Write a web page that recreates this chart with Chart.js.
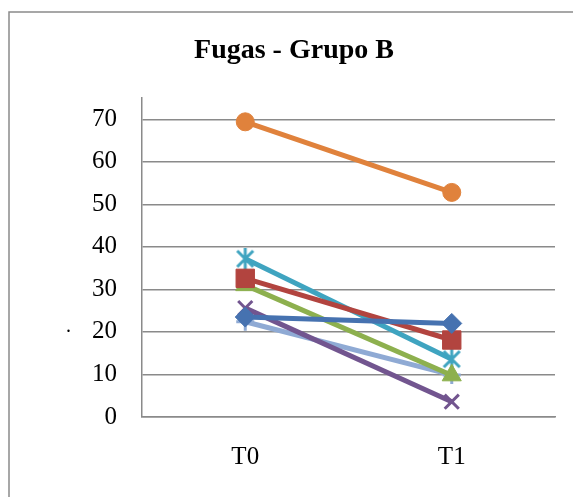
<!DOCTYPE html>
<html>
<head>
<meta charset="utf-8">
<script src="https://cdn.jsdelivr.net/npm/chart.js@4"></script>
<style>
  html, body { margin: 0; padding: 0; background: #fff; }
  #wrap { width: 573px; height: 497px; position: relative; }
</style>
</head>
<body>
<div id="wrap"><canvas id="c" width="573" height="497"></canvas></div>
<script>
// Time points and measured values per subject
const categories = ['T0', 'T1'];
const serie1 = [23.5, 22];
const serie2 = [32.6, 18.1];
const serie3 = [31, 9.8];
const serie4 = [25.6, 3.6];
const serie5 = [37.2, 13.6];
const serie6 = [69.4, 52.8];
const serie7 = [22.4, 9.9];
const yTicks = [0, 10, 20, 30, 40, 50, 60, 70];
const chartTitle = 'Fugas - Grupo B';

const serif = "'Liberation Serif', 'Times New Roman', serif";

// Asterisk marker: an X crossed by a vertical bar
function asterisk(color) {
  const s = 22, c = document.createElement('canvas');
  c.width = s; c.height = s;
  const g = c.getContext('2d');
  g.strokeStyle = color;
  g.lineWidth = 3;
  g.lineCap = 'butt';
  g.beginPath();
  g.moveTo(3, 3); g.lineTo(s - 3, s - 3);
  g.moveTo(s - 3, 3); g.lineTo(3, s - 3);
  g.moveTo(s / 2, 0); g.lineTo(s / 2, s);
  g.stroke();
  return c;
}

function ds(data, color, style, radius, bw) {
  return {
    data: data,
    borderColor: color,
    backgroundColor: color,
    borderWidth: 5,
    pointStyle: style,
    pointRadius: radius,
    pointHoverRadius: radius,
    pointBorderWidth: bw,
    pointBorderColor: color,
    pointBackgroundColor: color,
    tension: 0,
    fill: false
  };
}

// Frame, title and the small mark left of the axis
const decor = {
  id: 'decor',
  beforeDraw(chart) {
    const ctx = chart.ctx;
    ctx.save();
    ctx.fillStyle = '#fff';
    ctx.fillRect(0, 0, chart.width, chart.height);
    ctx.strokeStyle = '#8a8a8a';
    ctx.lineWidth = 1.5;
    ctx.strokeRect(9, 12, 700, 700);
    ctx.restore();
  },
  afterDraw(chart) {
    const ctx = chart.ctx;
    ctx.save();
    ctx.fillStyle = '#000';
    ctx.font = 'bold 28px ' + serif;
    ctx.textAlign = 'center';
    ctx.textBaseline = 'alphabetic';
    ctx.fillText(chartTitle, 294, 58);
    ctx.font = '20px ' + serif;
    ctx.textAlign = 'left';
    ctx.fillText('.', 66, 332);
    ctx.restore();
  }
};

const teal = '#3FA4C0';

new Chart(document.getElementById('c'), {
  type: 'line',
  data: {
    labels: categories,
    datasets: [
      ds(serie1, '#4672B0', 'rectRot', 10, 1),
      ds(serie2, '#B2443F', 'rect', 13, 1),
      ds(serie3, '#8DB04E', 'triangle', 11, 1),
      ds(serie4, '#72558F', 'crossRot', 10, 3),
      ds(serie5, teal, asterisk(teal), 10, 3),
      ds(serie6, '#E0823C', 'circle', 9, 1),
      ds(serie7, '#8FAAD4', 'cross', 9, 3)
    ]
  },
  options: {
    responsive: false,
    animation: false,
    events: [],
    layout: { padding: { top: 98, right: 18, left: 0, bottom: 0 } },
    plugins: {
      legend: { display: false },
      title: { display: false },
      tooltip: { enabled: false }
    },
    scales: {
      x: {
        offset: true,
        grid: { display: false, drawTicks: false },
        border: { display: true, color: '#8a8a8a', width: 1.5 },
        ticks: { color: '#000', font: { family: serif, size: 25 }, padding: 25 },
        afterFit(scale) { scale.height = 80; }
      },
      y: {
        min: 0,
        max: 75,
        grid: { color: '#8a8a8a', lineWidth: 1.5, drawTicks: false },
        border: { display: true, color: '#8a8a8a', width: 1.5 },
        ticks: { color: '#000', font: { family: serif, size: 25 }, padding: 25, stepSize: 10 },
        afterBuildTicks(scale) { scale.ticks = yTicks.map(v => ({ value: v })); },
        afterFit(scale) { scale.width = 142; }
      }
    }
  },
  plugins: [decor]
});
</script>
</body>
</html>
